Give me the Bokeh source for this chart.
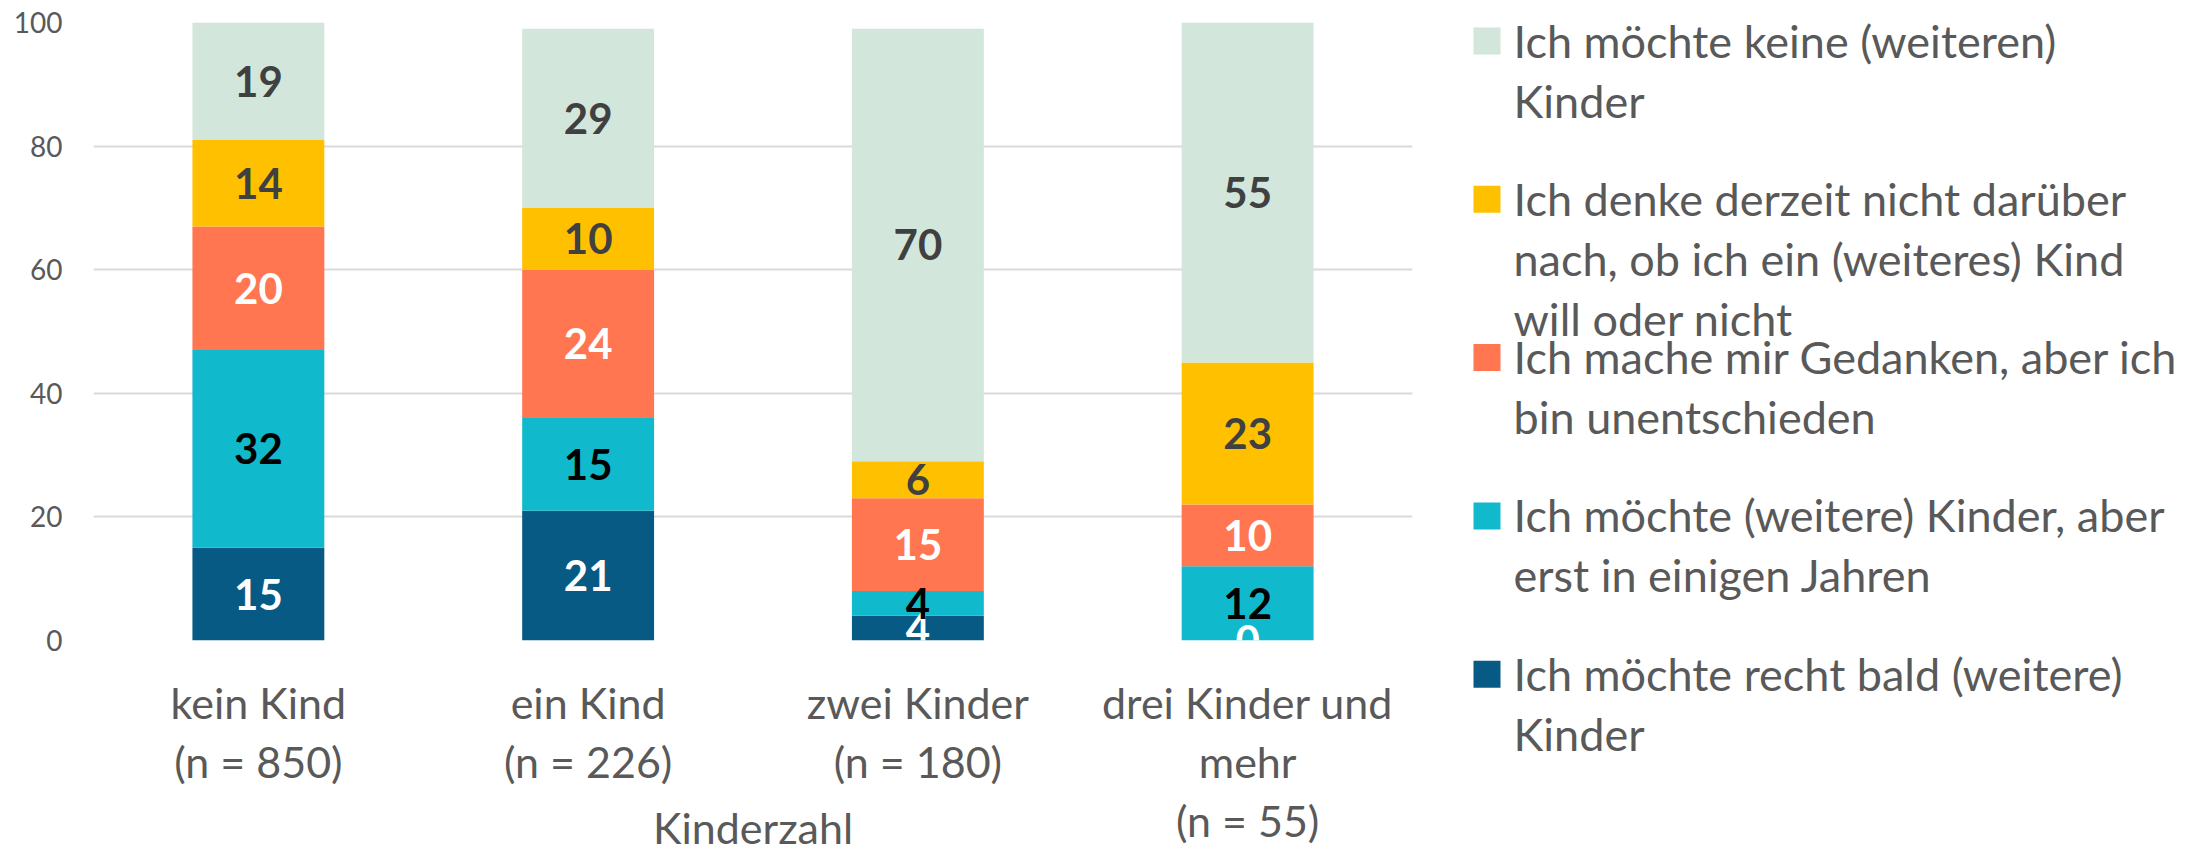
from bokeh.plotting import figure
from bokeh.models import ColumnDataSource, FixedTicker, Range1d, FactorRange
from bokeh.layouts import row
from bokeh.core.properties import value
from bokeh.embed import file_html
from bokeh.resources import INLINE

# ---------------- data ----------------
categories = ["kein Kind\n(n = 850)", "ein Kind\n(n = 226)",
              "zwei Kinder\n(n = 180)", "drei Kinder und\nmehr\n(n = 55)"]
# stacked bottom -> top
bald = [15, 21, 4, 0]
spaeter = [32, 15, 4, 12]
unentschieden = [20, 24, 15, 10]
nicht_nachgedacht = [14, 10, 6, 23]
keine = [19, 29, 70, 55]

series_keys = ["bald", "spaeter", "unentschieden", "nicht_nachgedacht", "keine"]
series_values = [bald, spaeter, unentschieden, nicht_nachgedacht, keine]
series_names = [
    "Ich möchte recht bald (weitere)\nKinder",
    "Ich möchte (weitere) Kinder, aber\nerst in einigen Jahren",
    "Ich mache mir Gedanken, aber ich\nbin unentschieden",
    "Ich denke derzeit nicht darüber\nnach, ob ich ein (weiteres) Kind\nwill oder nicht",
    "Ich möchte keine (weiteren)\nKinder",
]
colors = ["#075A83", "#10B9CB", "#FF7650", "#FFC000", "#D2E6DB"]
label_colors = ["#FFFFFF", "#000000", "#FFFFFF", "#404040", "#404040"]
y_ticks = [0, 20, 40, 60, 80, 100]
x_title = "Kinderzahl"

FONT = "Lato"
GREY = "#595959"

# ---------------- main chart ----------------
W1, H = 1440, 855
FL, FR, FT, FB = 93, 1412, 22, 642   # frame edges in canvas pixels

src_data = {"cat": categories}
for k, v in zip(series_keys, series_values):
    src_data[k] = v
src = ColumnDataSource(src_data)

p = figure(x_range=FactorRange(*categories), y_range=Range1d(0, 100),
           width=W1, height=H, output_backend="svg", toolbar_location=None,
           min_border_left=FL, min_border_right=W1 - FR, min_border_top=FT,
           min_border_bottom=H - FB, frame_align=False)
p.outline_line_color = None
p.background_fill_color = "white"
p.border_fill_color = "white"

p.vbar_stack(series_keys, x="cat", width=0.4, color=colors, line_color=None, source=src)

# value labels
lx, ly, lt, lc = [], [], [], []
for i, cat in enumerate(categories):
    base = 0
    for s, vals in enumerate(series_values):
        v = vals[i]
        lx.append(cat)
        ly.append(base + v / 2)
        lt.append(str(v))
        lc.append(label_colors[s])
        base += v
lsrc = ColumnDataSource(dict(x=lx, y=ly, t=lt, c=lc))
p.text(x="x", y="y", text="t", text_color="c", source=lsrc,
       text_font=value(FONT), text_font_style="bold", text_font_size="42px",
       text_align="center", text_baseline="middle")

# axes
p.yaxis.ticker = FixedTicker(ticks=y_ticks)
p.ygrid.ticker = FixedTicker(ticks=y_ticks)
p.ygrid.grid_line_color = "#D9D9D9"
p.ygrid.grid_line_width = 2
p.xgrid.grid_line_color = None
for ax in (p.xaxis, p.yaxis):
    ax.axis_line_color = None
    ax.major_tick_line_color = None
    ax.minor_tick_line_color = None
    ax.major_tick_out = 0
    ax.major_tick_in = 0
    ax.major_label_text_font = FONT
    ax.major_label_text_color = GREY
p.yaxis.major_label_text_font_size = "28px"
p.yaxis.major_label_standoff = 31
p.xaxis.major_label_text_font_size = "43px"
p.xaxis.major_label_text_line_height = 1.16
p.xaxis.major_label_standoff = 36
p.xaxis.axis_label = x_title
p.xaxis.axis_label_text_font = FONT
p.xaxis.axis_label_text_font_style = "normal"
p.xaxis.axis_label_text_font_size = "43px"
p.xaxis.axis_label_text_color = GREY
p.xaxis.axis_label_standoff = -47

# ---------------- legend (separate panel on the right) ----------------
W2 = 760
lg = figure(width=W2, height=H, x_range=Range1d(0, W2), y_range=Range1d(H, 0),
            output_backend="svg", toolbar_location=None, frame_align=False,
            min_border=0, min_border_left=0, min_border_right=0,
            min_border_top=0, min_border_bottom=0)
lg.axis.visible = False
lg.grid.visible = False
lg.outline_line_color = None
lg.border_fill_color = "white"
lg.background_fill_color = "white"

order = list(range(len(series_names)))[::-1]   # top entry = last series
SQ_L, SQ = 1473 - W1, 27
TXT_X = 1513 - W1
TOP0, STEP, LINE = 27, 158.3, 60
rx, ry, rc = [], [], []
tx, ty, tt = [], [], []
for j, s in enumerate(order):
    top = TOP0 + j * STEP
    rx.append(SQ_L + SQ / 2)
    ry.append(top + SQ / 2)
    rc.append(colors[s])
    for k, line in enumerate(series_names[s].split("\n")):
        tx.append(TXT_X)
        ty.append(top + 13 + k * LINE)
        tt.append(line)
lg.rect(x="x", y="y", width=SQ, height=SQ, color="c", line_color=None,
        source=ColumnDataSource(dict(x=rx, y=ry, c=rc)))
lg.text(x="x", y="y", text="t", source=ColumnDataSource(dict(x=tx, y=ty, t=tt)),
        text_font=value(FONT), text_font_size="45px", text_color=GREY,
        text_align="left", text_baseline="alphabetic")

layout = row(p, lg)
open("out.html", "w").write(file_html(layout, INLINE))
